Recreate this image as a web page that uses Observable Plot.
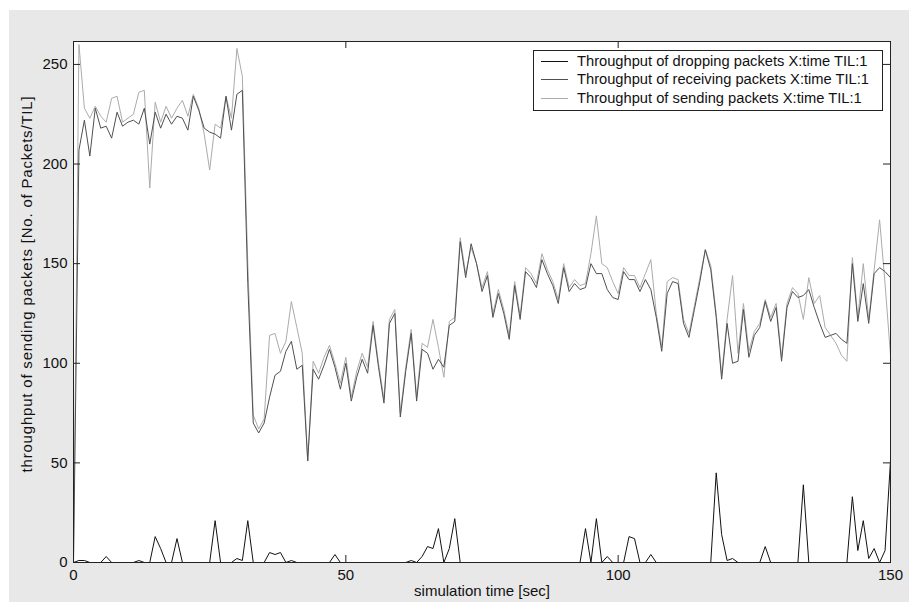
<!DOCTYPE html>
<html>
<head>
<meta charset="utf-8">
<script src="https://cdn.jsdelivr.net/npm/d3@7"></script>
<script src="https://cdn.jsdelivr.net/npm/@observablehq/plot@0.6"></script>
<style>
  html, body { margin: 0; padding: 0; background: #ffffff; }
  #wrap { position: relative; width: 909px; height: 603px; overflow: hidden; }
  #bg { position: absolute; left: 9px; top: 10px; width: 900px; height: 592px; background: #e8e8e8; }
  #chart { position: absolute; left: 0; top: 0; }
  #legend { position: absolute; left: 0; top: 0; }
</style>
</head>
<body>
<div id="wrap"><div id="bg"></div><div id="chart"></div><svg id="legend" width="909" height="603"></svg></div>
<script>
// ---- data (one value per second, t = 0..150) ----
const dropping = [
  0,1,1,0,0,0,3,0,0,0, 0,0,1,0,0,13,7,0,0,12,
  0,0,0,0,0,0,21,0,0,0, 2,1,21,0,0,0,5,4,5,0,
  1,0,0,0,0,0,0,0,4,0, 0,0,0,0,0,0,0,0,0,0,
  0,0,1,0,3,8,7,17,0,7, 22,0,0,0,0,0,0,0,0,0,
  0,0,0,0,0,0,0,0,0,0, 0,0,0,0,17,0,22,0,3,0,
  0,0,13,12,0,0,4,0,0,0, 0,0,0,0,0,0,0,0,45,14,
  1,2,0,0,0,0,0,8,0,0, 0,0,0,0,39,0,0,0,0,0,
  0,0,0,33,6,21,2,7,0,6, 51
];
const receiving = [
  0,207,222,204,228,218,219,213,226,219, 221,222,220,228,210,226,218,225,220,224,
  223,217,234,227,218,216,215,213,234,217, 235,237,140,70,65,70,83,94,96,106,
  111,97,99,51,97,92,99,107,98,87, 100,81,93,102,95,119,98,80,120,125,
  73,96,115,81,107,105,97,102,98,119, 121,161,143,160,150,136,144,123,135,125,
  112,139,122,146,143,138,152,145,139,130, 148,136,140,137,138,150,145,145,137,133,
  132,146,142,142,136,142,137,123,106,135, 141,140,120,113,127,141,157,147,123,92,
  120,100,101,127,103,114,118,131,121,128, 101,128,136,133,134,137,128,120,113,114,
  115,112,110,150,121,140,120,145,148,146, 143
];
const sending = [
  0,260,228,223,229,224,221,233,234,221, 223,225,236,237,188,231,221,229,223,228,
  232,224,235,228,215,197,220,218,234,223, 258,244,150,74,67,72,114,115,105,111,
  131,118,105,51,101,95,103,109,100,90, 103,83,96,105,98,121,100,82,122,127,
  75,98,117,83,110,108,122,108,93,121, 123,163,145,158,150,138,146,125,137,127,
  114,141,124,148,145,140,155,147,141,132, 150,138,142,139,140,155,174,150,148,141,
  135,148,144,144,138,145,152,125,108,141, 143,142,122,115,129,143,157,149,125,94,
  122,144,105,130,106,116,120,132,123,130, 103,130,138,135,122,143,130,134,118,114,
  110,104,101,153,123,150,122,147,172,140, 104
];
const xTicks = [0, 50, 100, 150];
const yTicks = [0, 50, 100, 150, 200, 250];
const seriesNames = [
  "Throughput of dropping packets X:time TIL:1",
  "Throughput of receiving packets X:time TIL:1",
  "Throughput of sending packets X:time TIL:1"
];
const seriesColors = ["#111111", "#505050", "#ababab"];
const xLabel = "simulation time [sec]";
const yLabel = "throughput of sending packets [No. of Packets/TIL]";

// ---- build table ----
const rows = [];
[dropping, receiving, sending].forEach((arr, s) => {
  arr.forEach((v, i) => rows.push({t: i, v, s: seriesNames[s]}));
});

const mL = 73, mR = 19, mT = 41, mB = 41, W = 909, H = 603;
const pw = W - mL - mR, ph = H - mT - mB;
const font = "'Liberation Sans', Arial, Helvetica, sans-serif";
const axisColor = "#222";

const chart = Plot.plot({
  width: W, height: H,
  marginLeft: mL, marginRight: mR, marginTop: mT, marginBottom: mB,
  style: {background: "transparent", fontFamily: font, fontSize: "15px", color: "#111", overflow: "visible"},
  x: {domain: [0, 150]},
  y: {domain: [0, 261.5]},
  marks: [
    Plot.frame({fill: "white", stroke: "none"}),
    Plot.line(rows.filter(d => d.s === seriesNames[2]), {x: "t", y: "v", stroke: seriesColors[2], strokeWidth: 1}),
    Plot.line(rows.filter(d => d.s === seriesNames[1]), {x: "t", y: "v", stroke: seriesColors[1], strokeWidth: 1}),
    Plot.line(rows.filter(d => d.s === seriesNames[0]), {x: "t", y: "v", stroke: seriesColors[0], strokeWidth: 1}),
    Plot.frame({stroke: axisColor, strokeWidth: 1}),
    Plot.tickX(xTicks, {x: d => d, insetTop: ph - 7, stroke: axisColor}),
    Plot.tickX(xTicks, {x: d => d, insetBottom: ph - 7, stroke: axisColor}),
    Plot.tickY(yTicks, {y: d => d, insetRight: pw - 7, stroke: axisColor}),
    Plot.tickY(yTicks, {y: d => d, insetLeft: pw - 7, stroke: axisColor}),
    Plot.axisX({ticks: xTicks, tickSize: 0, tickPadding: 7, label: null, tickFormat: d => String(d), fill: "#111"}),
    Plot.axisY({ticks: yTicks, tickSize: 0, tickPadding: 6, label: null, tickFormat: d => String(d), fill: "#111"}),
    Plot.text([xLabel], {text: d => d, frameAnchor: "bottom", textAnchor: "middle", dy: 33, fontSize: 15, fill: "#111"}),
    Plot.text([yLabel], {text: d => d, frameAnchor: "left", textAnchor: "middle", dx: -46, dy: -18, rotate: -90, fontSize: 15, fill: "#111"})
  ]
});
document.getElementById("chart").appendChild(chart);
// reference's rotated label is slightly letter-spaced
d3.select(chart).selectAll("text").filter(function () { return this.textContent === yLabel; })
  .style("letter-spacing", "0.8px");

// ---- legend ----
const lg = d3.select("#legend");
const lx = 533, ly = 50, lw = 349, lh = 60;
lg.append("rect").attr("x", lx + 0.5).attr("y", ly + 0.5).attr("width", lw).attr("height", lh)
  .attr("fill", "white").attr("stroke", axisColor).attr("stroke-width", 1);
const rowY = [61, 79.3, 97.7];
seriesNames.forEach((name, i) => {
  lg.append("line").attr("x1", 541).attr("x2", 568).attr("y1", Math.round(rowY[i]) + 0.5).attr("y2", Math.round(rowY[i]) + 0.5)
    .attr("stroke", seriesColors[i]).attr("stroke-width", 1);
  lg.append("text").attr("x", 577).attr("y", rowY[i]).attr("dy", "0.35em")
    .attr("font-family", font).attr("font-size", "14.7px").attr("fill", "#111").text(name);
});
</script>
</body>
</html>
